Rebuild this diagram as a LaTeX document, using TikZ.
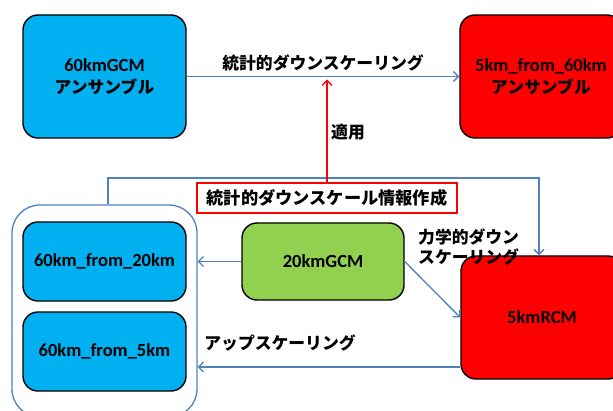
\documentclass[tikz,border=0pt]{standalone}
\usepackage{fontspec}
\setmainfont{Carlito}
\newfontfamily\jp{Noto Sans CJK JP}
\usetikzlibrary{arrows.meta}
\definecolor{cyanbox}{HTML}{00B0F0}
\definecolor{greenbox}{HTML}{92D050}
\definecolor{redbox}{HTML}{FF0000}
\definecolor{lineblue}{HTML}{4F81BD}
\newcommand{\lt}[1]{{\fontsize{18.5}{22}\selectfont\bfseries #1}}
\newcommand{\jt}[1]{{\jp\fontsize{16.8}{22}\selectfont\bfseries #1}}
\begin{document}
\begin{tikzpicture}[x=1pt,y=1pt,
  box/.style={draw=black,line width=1.4pt,rounded corners=15pt,minimum width=163pt,align=center,inner sep=0pt,font=\fontsize{18}{22}\selectfont},
  conn/.style={draw=lineblue,line width=1.3pt,-{Straight Barb[length=5pt,width=10pt,line width=1.3pt]}},
  redconn/.style={draw=redbox,line width=1.3pt,-{Straight Barb[length=5pt,width=10pt,line width=1.3pt]}},
  lab/.style={inner sep=0pt}]
\useasboundingbox (0,0) rectangle (613,410);
\clip (0,0) rectangle (613,410);
% outer container
\node[draw=lineblue,line width=1.3pt,rounded corners=28pt,minimum width=185pt,minimum height=212pt,inner sep=0pt] (outer) at (104.5,99) {};
% boxes
\node[box,fill=cyanbox,minimum height=123pt] (gcm60) at (104.5,333.5) {\lt{60kmGCM}\\\jt{アンサンブル}};
\node[box,fill=redbox,minimum width=162pt,minimum height=123pt] (r60) at (541,333.5) {\lt{5km\_from\_60km}\\\jt{アンサンブル}};
\node[box,fill=cyanbox,minimum height=79pt] (b20) at (104.5,148.5) {\lt{60km\_from\_20km}};
\node[box,fill=cyanbox,minimum height=79pt] (b5) at (104.5,58.5) {\lt{60km\_from\_5km}};
\node[box,fill=greenbox,minimum width=162pt,minimum height=77pt] (g20) at (323,148.5) {\lt{20kmGCM}};
\node[box,fill=redbox,minimum width=162pt,minimum height=123pt] (rcm) at (542,92.5) {\lt{5kmRCM}};
% connectors
\draw[conn] (gcm60.east) -- (r60.west);
\coordinate (cornerL) at ([xshift=3.5pt]outer.north |- 0,232);
\draw[conn] ([xshift=3.5pt]outer.north) -- (cornerL) -| ([xshift=-3pt]rcm.north);
% red label box
\node[draw=redbox,fill=white,line width=1.4pt,minimum width=260pt,minimum height=30pt,inner sep=0pt] (info) at (327,212) {{\jp\fontsize{17.2}{20}\selectfont\bfseries 統計的ダウンスケール情報作成}};
\coordinate (apply) at (info.north |- gcm60.east);
\draw[redconn,shorten >=3pt] (info.north) -- (apply);
\draw[conn] (g20.west) -- (g20.west -| outer.east);
\draw[conn] (g20.east) -- (rcm.west);
\coordinate (upstart) at ([yshift=-49.5pt]rcm.west);
\draw[conn] (upstart) -- (upstart -| outer.east);
% labels
\node[lab] (l1) at (323,347) {\jt{統計的ダウンスケーリング}};
\node[lab] (l2) at (348,278) {\jt{適用}};
\node[lab,align=left,anchor=west,font=\fontsize{16.5}{20}\selectfont] (l3) at (418,163) {\jt{力学的ダウン}\\\jt{スケーリング}};
\node[lab] (l4) at (280,67) {\jt{アップスケーリング}};
\end{tikzpicture}
\end{document}
